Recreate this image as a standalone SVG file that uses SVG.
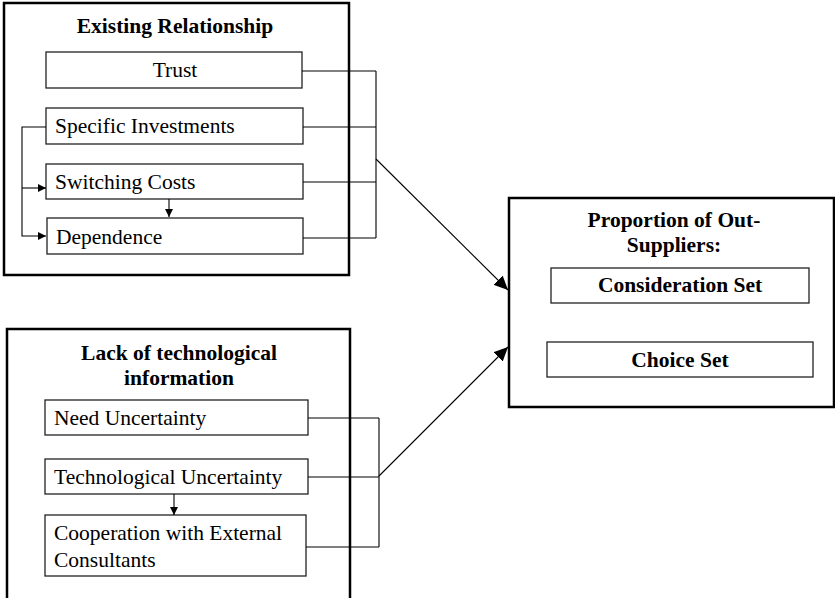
<svg xmlns="http://www.w3.org/2000/svg" width="835" height="598" viewBox="0 0 835 598">
<defs>
<style>
.outer{fill:#fff;stroke:#000;stroke-width:2.5}
.inner{fill:#fff;stroke:#222;stroke-width:1.3}
.t{font-family:"Liberation Serif","Times New Roman",serif;font-size:21.5px;fill:#000}
.b{font-weight:bold}
.c{fill:none;stroke:#000;stroke-width:1.1}
</style>
<marker id="sm" viewBox="0 0 10 10" refX="10" refY="5" markerWidth="8" markerHeight="8" markerUnits="userSpaceOnUse" orient="auto"><path d="M0,0L10,5L0,10Z" fill="#000"/></marker>
<marker id="lg" viewBox="0 0 10 10" refX="10" refY="5" markerWidth="14" markerHeight="13" markerUnits="userSpaceOnUse" orient="auto" preserveAspectRatio="none"><path d="M0,0L10,5L0,10Z" fill="#000"/></marker>
</defs>
<g id="existing-relationship">
<rect class="outer" x="4" y="3" width="345" height="272"/>
<text class="t b" x="175" y="33" text-anchor="middle">Existing Relationship</text>
</g>
<g id="trust"><rect class="inner" x="46" y="52" width="256" height="36"/><text class="t" x="175" y="77" text-anchor="middle">Trust</text></g>
<g id="specific-investments"><rect class="inner" x="46" y="108" width="257" height="36"/><text class="t" x="55" y="133">Specific Investments</text></g>
<g id="switching-costs"><rect class="inner" x="46" y="164" width="257" height="35"/><text class="t" x="55" y="189">Switching Costs</text></g>
<g id="dependence"><rect class="inner" x="47" y="218" width="256" height="36"/><text class="t" x="56" y="244">Dependence</text></g>
<g id="lack-of-technological-information">
<rect class="outer" x="7" y="329" width="343" height="280"/>
<text class="t b" x="179" y="360" text-anchor="middle">Lack of technological</text>
<text class="t b" x="179" y="385" text-anchor="middle">information</text>
</g>
<g id="need-uncertainty"><rect class="inner" x="45" y="400" width="263" height="35"/><text class="t" x="54" y="425">Need Uncertainty</text></g>
<g id="technological-uncertainty"><rect class="inner" x="45" y="459" width="263" height="35"/><text class="t" x="54" y="484">Technological Uncertainty</text></g>
<g id="cooperation"><rect class="inner" x="45" y="515" width="261" height="61"/><text class="t" x="54" y="540">Cooperation with External</text><text class="t" x="54" y="567">Consultants</text></g>
<g id="proportion-of-out-suppliers">
<rect class="outer" x="509" y="198" width="325" height="209"/>
<text class="t b" x="674" y="227" text-anchor="middle">Proportion of Out-</text>
<text class="t b" x="674" y="252" text-anchor="middle">Suppliers:</text>
</g>
<g id="consideration-set"><rect class="inner" x="551" y="268" width="258" height="35"/><text class="t b" x="680" y="292" text-anchor="middle">Consideration Set</text></g>
<g id="choice-set"><rect class="inner" x="547" y="342" width="266" height="35"/><text class="t b" x="680" y="367" text-anchor="middle">Choice Set</text></g>
<g id="connectors">
<path class="c" d="M46,127H22V236H46" marker-end="url(#sm)"/>
<path class="c" d="M22,188H46" marker-end="url(#sm)"/>
<path class="c" d="M169,199V217" marker-end="url(#sm)"/>
<path class="c" d="M302,71H376M303,127H376M303,182H376M303,238H376M376,71V238"/>
<path class="c" d="M376,159L508,290" marker-end="url(#lg)"/>
<path class="c" d="M174,494V515" marker-end="url(#sm)"/>
<path class="c" d="M308,418H379M308,477H379M306,547H379M379,418V547"/>
<path class="c" d="M379,476L508,347" marker-end="url(#lg)"/>
</g>
</svg>
